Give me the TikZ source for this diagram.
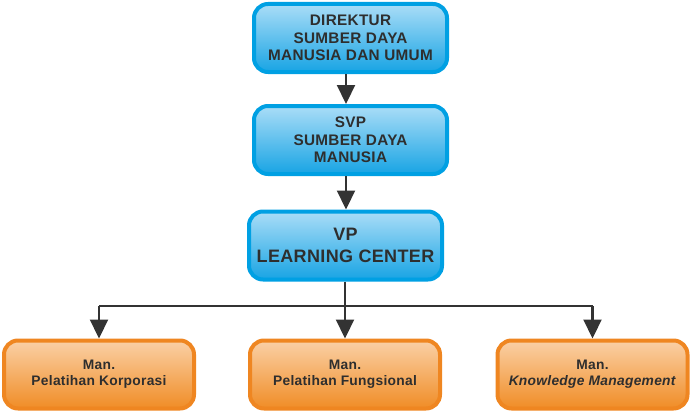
\documentclass[tikz,border=0pt]{standalone}
\usepackage{fontspec}
\setmainfont{Liberation Sans}[LetterSpace=2]
\usetikzlibrary{arrows.meta}
\definecolor{bblue}{HTML}{00A0E3}
\definecolor{btop}{HTML}{AADDF7}
\definecolor{bbot}{HTML}{18A4E4}
\definecolor{oedge}{HTML}{EF8621}
\definecolor{otop}{HTML}{FAD0A6}
\definecolor{obot}{HTML}{F08C26}
\definecolor{txt}{HTML}{2E2E2E}
\definecolor{lin}{HTML}{333333}
\tikzset{
  bluebox/.style={draw=bblue, line width=4pt, rounded corners=14pt, top color=btop, bottom color=bbot,
    minimum width=193pt, minimum height=68pt, align=center, text=txt, inner sep=0pt},
  orbox/.style={draw=oedge, line width=4pt, rounded corners=14pt, top color=otop, bottom color=obot,
    minimum width=190pt, minimum height=68pt, align=center, text=txt, inner sep=0pt},
  conn/.style={draw=lin, line width=2.2pt, -{Triangle[width=18pt,length=19pt]}},
  plain/.style={draw=lin, line width=2.2pt}
}
\begin{document}
\begin{tikzpicture}[x=1pt,y=-1pt]
\useasboundingbox (0,0) rectangle (692,412);
\node[bluebox, font=\bfseries\fontsize{15.3}{17.5}\selectfont] (b1) at (350.5,38) {DIREKTUR\\SUMBER DAYA\\MANUSIA DAN UMUM};
\node[bluebox, font=\bfseries\fontsize{15.3}{17.5}\selectfont] (b2) at (350.5,140) {SVP\\SUMBER DAYA\\MANUSIA};
\node[bluebox, font=\bfseries\fontsize{18}{22}\selectfont] (b3) at (345.5,245.5) {VP\\LEARNING CENTER};
\node[orbox, font=\bfseries\fontsize{13.8}{15.7}\selectfont] (m1) at (99,374.5) {Man.\\Pelatihan Korporasi};
\node[orbox, font=\bfseries\fontsize{13.8}{15.7}\selectfont] (m2) at (345,374.5) {Man.\\Pelatihan Fungsional};
\node[orbox, font=\bfseries\fontsize{13.8}{15.7}\selectfont] (m3) at (592.5,374.5) {Man.\\\textit{Knowledge Management}};
\coordinate (ax) at (346,0);
\coordinate (hl) at (0,306);
\draw[conn] (b1.south -| ax) -- (b2.north -| ax);
\draw[conn] (b2.south -| ax) -- (b3.north -| ax);
\draw[conn] (b3.south -| m2) -- (m2.north);
\draw[plain] (m1 |- hl) -- (m3 |- hl);
\draw[conn] (m1 |- hl) -- (m1.north);
\draw[conn] (m3 |- hl) -- (m3.north);
\end{tikzpicture}
\end{document}
